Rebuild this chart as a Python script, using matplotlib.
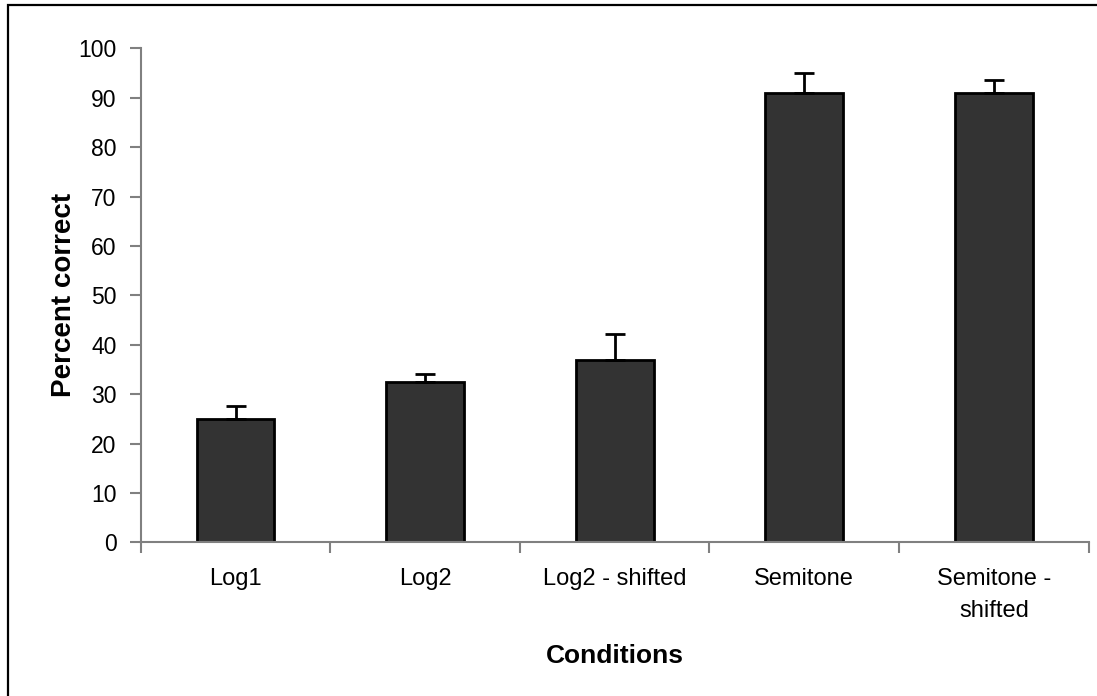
import matplotlib
matplotlib.use("Agg")
import matplotlib.pyplot as plt
from matplotlib.patches import Rectangle
import numpy as np

plt.rcParams['font.family'] = ['Liberation Sans', 'DejaVu Sans']

conditions = ['Log1', 'Log2', 'Log2 - shifted', 'Semitone', 'Semitone -\nshifted']
percent_correct = [24.9, 32.5, 36.9, 90.9, 90.9]
error_upper = [2.7, 1.6, 5.3, 4.0, 2.7]

fig = plt.figure(figsize=(10.97, 6.96), dpi=100)
ax = fig.add_axes([0.1283, 0.2208, 0.8641, 0.7098])

x = np.arange(len(conditions))
ax.bar(x, percent_correct, width=0.41, color='#333333', edgecolor='black',
       linewidth=2.0, zorder=2)
ax.errorbar(x, percent_correct, yerr=[np.zeros(len(x)), error_upper],
            fmt='none', ecolor='black', elinewidth=2.0, capsize=7.5,
            capthick=2.0, zorder=3)

ax.set_xlim(-0.5, len(conditions) - 0.5)
ax.set_ylim(0, 100)
ax.set_yticks(range(0, 101, 10))

# category ticks sit between the bars
ax.set_xticks(np.arange(-0.5, len(conditions), 1.0))
ax.set_xticklabels([])
ax.set_xticks(x, minor=True)
ax.set_xticklabels(conditions, minor=True, fontsize=17, linespacing=1.6)
ax.tick_params(axis='x', which='minor', length=0, pad=18.5)
ax.tick_params(axis='x', which='major', length=8, width=1.5, color='#808080',
               direction='out')
ax.tick_params(axis='y', length=8, width=1.5, color='#808080', direction='out',
               labelsize=16.5, pad=9.5)

for side in ['top', 'right']:
    ax.spines[side].set_visible(False)
for side in ['left', 'bottom']:
    ax.spines[side].set_color('#808080')
    ax.spines[side].set_linewidth(1.5)

ax.set_xlabel('Conditions', fontsize=19, fontweight='bold', labelpad=16)
ax.set_ylabel('Percent correct', fontsize=20, fontweight='bold', labelpad=1)

# outer frame around the chart area
fig.patches.append(Rectangle((8 / 1097, -0.1), 1.2, 0.1 + 1 - 5 / 696,
                             transform=fig.transFigure, fill=False,
                             edgecolor='black', linewidth=1.6))

fig.savefig('out.png', dpi=100)
